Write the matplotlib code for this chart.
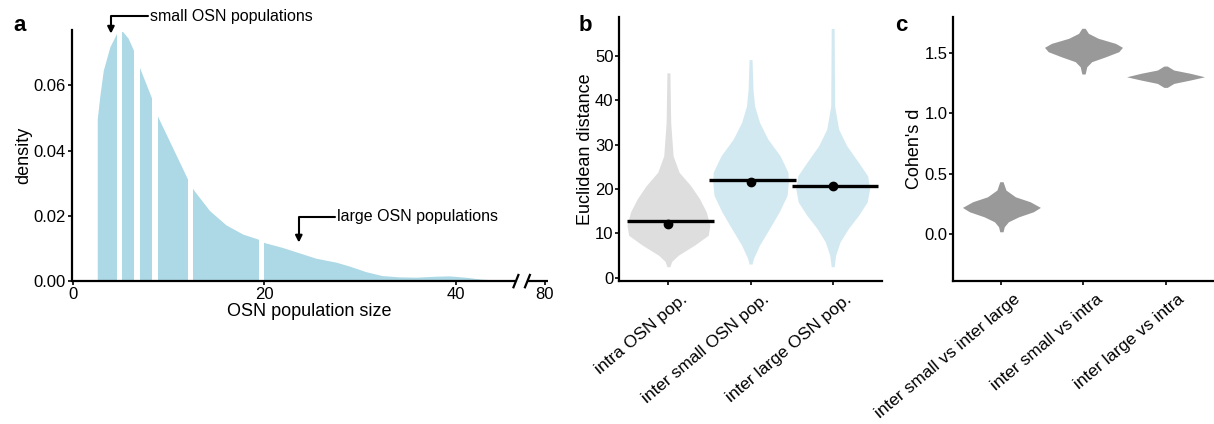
import matplotlib
matplotlib.use('Agg')
import matplotlib.pyplot as plt
import matplotlib.transforms as mtransforms

plt.rcParams['font.family'] = ['Liberation Sans', 'DejaVu Sans']
plt.rcParams['font.size'] = 12

# ---- panel a: density of OSN population size
density_x = [2.53, 2.81, 3.16, 3.85, 4.55, 5.18, 5.76, 6.46, 6.98, 8.30, 8.82, 10.45,
             12.01, 12.53, 14.27, 16.0, 17.75, 19.4, 20.0, 21.9, 23.6, 25.4, 27.5,
             28.9, 30.6, 32.3, 34.1, 35.8, 37.9, 39.3, 41.0, 42.7, 45.5, 47.0]
density_y = [0.0498, 0.0570, 0.0646, 0.0718, 0.0759, 0.0765, 0.0744, 0.0698, 0.0652,
             0.0554, 0.0506, 0.0406, 0.0310, 0.0282, 0.0216, 0.0172, 0.0144, 0.0128,
             0.0118, 0.0103, 0.0087, 0.0070, 0.0058, 0.0046, 0.0029, 0.0017, 0.0013,
             0.0012, 0.0015, 0.0016, 0.0012, 0.0006, 0.0002, 0.0]
gap_centers = [4.86, 6.72, 8.56, 12.27, 19.7]
a_xticks = [0, 20, 40, 49.3]
a_xticklabels = ['0', '20', '40', '80']

# ---- panel b: euclidean distance violins (y level, half width)
b_labels = ['intra OSN pop.', 'inter small OSN pop.', 'inter large OSN pop.']
intra_y = [46.2, 35.0, 27.5, 23.8, 20.8, 17.8, 14.9, 11.9, 9.6, 7.4, 5.1, 3.7, 2.5]
intra_w = [0.018, 0.028, 0.057, 0.13, 0.27, 0.38, 0.46, 0.505, 0.485, 0.32, 0.12, 0.04, 0.018]
small_y = [49.2, 42.4, 38.7, 35.0, 31.3, 27.5, 23.8, 21.6, 18.6, 14.9, 11.1, 7.4, 4.4, 3.1]
small_w = [0.018, 0.03, 0.05, 0.11, 0.21, 0.36, 0.455, 0.46, 0.445, 0.35, 0.23, 0.11, 0.036, 0.018]
large_y = [56.2, 38.7, 33.5, 29.8, 26.0, 23.0, 20.1, 17.1, 14.1, 11.1, 8.1, 5.1, 2.5]
large_w = [0.018, 0.024, 0.073, 0.17, 0.315, 0.425, 0.45, 0.42, 0.315, 0.19, 0.09, 0.036, 0.018]
b_means = [12.1, 21.7, 20.7]
b_medians = [12.75, 22.0, 20.7]

# ---- panel c: Cohen's d violins
c_labels = ['inter small vs inter large', 'inter small vs intra', 'inter large vs intra']
c1_y = [0.434, 0.365, 0.309, 0.268, 0.221, 0.185, 0.143, 0.102, 0.061, 0.019]
c1_w = [0.02, 0.055, 0.17, 0.35, 0.475, 0.39, 0.21, 0.085, 0.035, 0.02]
c2_y = [1.706, 1.664, 1.623, 1.581, 1.548, 1.512, 1.470, 1.429, 1.387, 1.327]
c2_w = [0.02, 0.06, 0.18, 0.39, 0.475, 0.43, 0.27, 0.10, 0.04, 0.02]
c3_y = [1.393, 1.360, 1.333, 1.304, 1.277, 1.249, 1.216]
c3_w = [0.02, 0.10, 0.30, 0.475, 0.30, 0.10, 0.02]

fig = plt.figure(figsize=(12.14, 4.24), dpi=100)
shift = mtransforms.ScaledTranslation(12 / 100, -5 / 100, fig.dpi_scale_trans)


def style(ax):
    for loc, spine in ax.spines.items():
        if loc in ['right', 'top']:
            spine.set_visible(False)
        else:
            spine.set_linewidth(1.6)
    ax.tick_params(length=3, width=1.2, colors='black', labelsize=12, pad=1)


def slanted(ax, labels):
    ax.set_xticks(range(len(labels)))
    ax.set_xticklabels(labels, rotation=40, ha='right', va='top',
                       rotation_mode='anchor', fontsize=12.5)
    for lab in ax.get_xticklabels():
        lab.set_transform(lab.get_transform() + shift)


# panel a
ax = fig.add_axes([0.059, 0.337, 0.392, 0.592])
style(ax)
ax.spines['bottom'].set_visible(False)
ax.fill_between(density_x, density_y, 0, color='#add8e6', lw=0, zorder=1)
ax.bar(gap_centers, 0.08, width=0.6, color='white', lw=0, zorder=2)
ax.set_xlim(-0.15, 49.6)
ax.set_ylim(0, 0.0769)
ax.set_yticks([0, 0.02, 0.04, 0.06])
ax.set_yticklabels(['0.00', '0.02', '0.04', '0.06'])
ax.set_xticks(a_xticks)
ax.set_xticklabels(a_xticklabels)
ax.set_xlabel('OSN population size', fontsize=13, labelpad=1)
ax.set_ylabel('density', fontsize=13, labelpad=1)
# broken x axis line
kw = dict(color='black', lw=1.6, clip_on=False, zorder=5, solid_capstyle='butt')
ax.plot([-0.15, 46.3], [0, 0], **kw)
ax.plot([47.5, 49.6], [0, 0], **kw)
ax.plot([46.0, 46.6], [-0.0022, 0.0022], **kw)
ax.plot([47.2, 47.8], [-0.0022, 0.0022], **kw)
# annotations
arrow = dict(arrowstyle='-|>', color='black', lw=1.5, mutation_scale=10,
             connectionstyle='angle,angleA=180,angleB=90,rad=0',
             shrinkA=0, shrinkB=0)
ax.annotate('', xy=(3.96, 0.0758), xytext=(7.8, 0.0812), arrowprops=arrow,
            annotation_clip=False)
ax.text(8.0, 0.0812, 'small OSN populations', fontsize=11.5, va='center', ha='left')
ax.annotate('', xy=(23.6, 0.0118), xytext=(27.4, 0.0197), arrowprops=arrow,
            annotation_clip=False)
ax.text(27.6, 0.0197, 'large OSN populations', fontsize=11.5, va='center', ha='left')
fig.text(0.011, 0.928, 'a', fontsize=16, fontweight='bold')

# panel b
ax = fig.add_axes([0.510, 0.337, 0.2165, 0.623])
style(ax)
shapes = [(intra_y, intra_w, '#dedede'), (small_y, small_w, '#d3e9f1'),
          (large_y, large_w, '#d3e9f1')]
for i, (ys, ws, col) in enumerate(shapes):
    ax.fill_betweenx(ys, [i - w for w in ws], [i + w for w in ws], color=col, lw=0)
    ax.plot([i - 0.5, i + 0.55], [b_medians[i]] * 2, color='black', lw=2.4,
            solid_capstyle='butt')
    ax.plot(i, b_means[i], 'o', color='black', ms=6)
ax.set_xlim(-0.6, 2.6)
ax.set_ylim(-0.74, 58.8)
ax.set_yticks([0, 10, 20, 30, 40, 50])
slanted(ax, b_labels)
ax.set_ylabel('Euclidean distance', fontsize=13, labelpad=1)
fig.text(0.477, 0.928, 'b', fontsize=16, fontweight='bold')

# panel c
ax = fig.add_axes([0.785, 0.337, 0.215, 0.623])
style(ax)
for i, (ys, ws) in enumerate([(c1_y, c1_w), (c2_y, c2_w), (c3_y, c3_w)]):
    ax.fill_betweenx(ys, [i - w for w in ws], [i + w for w in ws], color='#999999', lw=0)
ax.set_xlim(-0.59, 2.59)
ax.set_ylim(-0.39, 1.80)
ax.set_yticks([0.0, 0.5, 1.0, 1.5])
ax.set_yticklabels(['0.0', '0.5', '1.0', '1.5'])
slanted(ax, c_labels)
ax.set_ylabel("Cohen's d", fontsize=13, labelpad=1)
fig.text(0.737, 0.928, 'c', fontsize=16, fontweight='bold')

plt.savefig('out.png', dpi=100)
